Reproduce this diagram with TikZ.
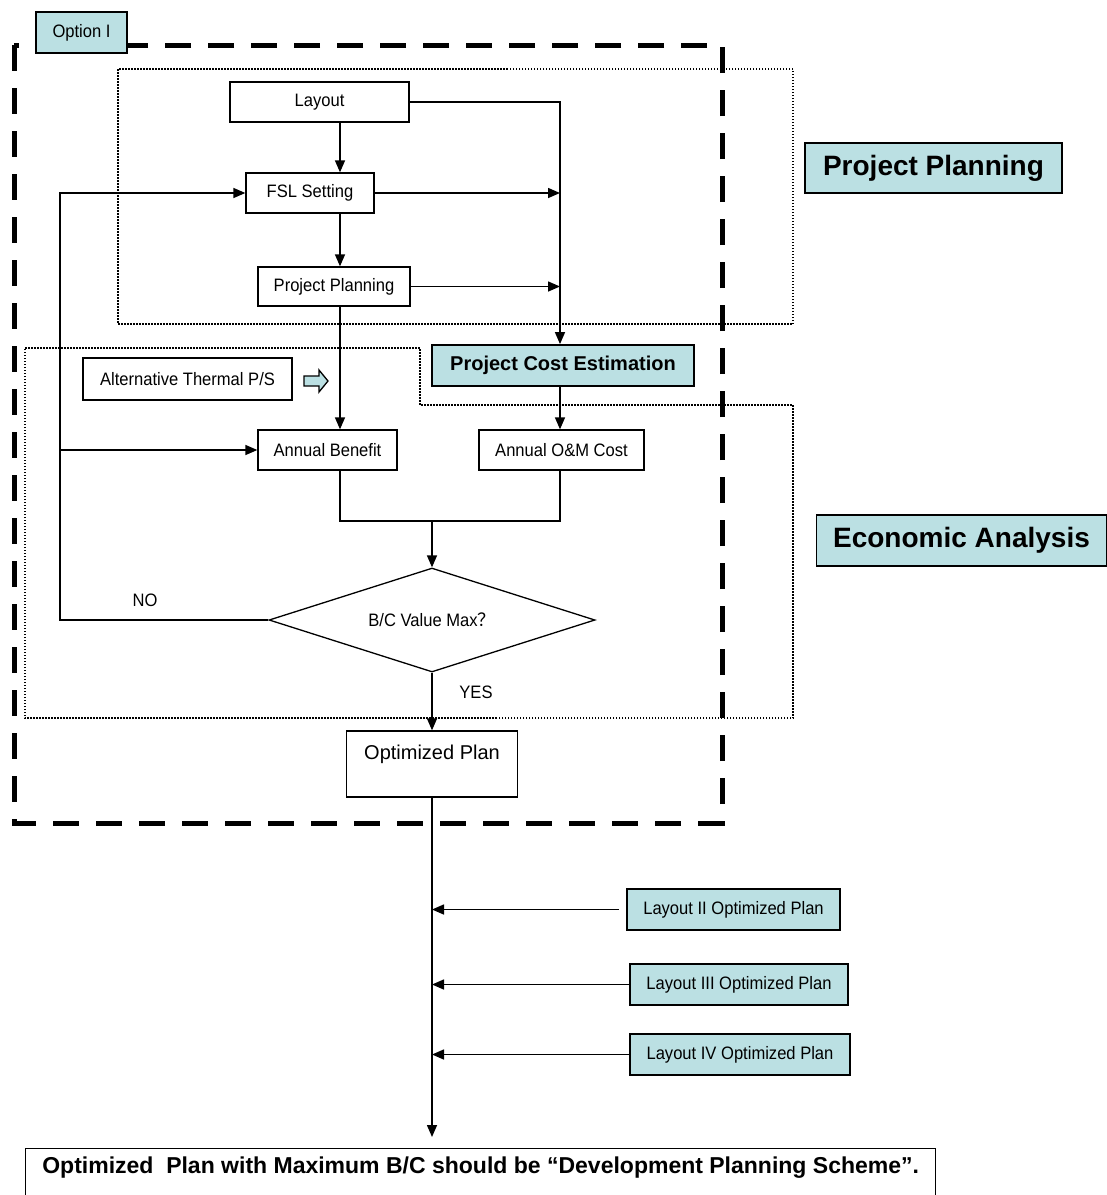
\documentclass[tikz,border=0pt]{standalone}
\usepackage{fontspec}
\setmainfont{Liberation Sans}
\newfontfamily\narrowsf{Liberation Sans}[FakeStretch=0.92]
\newfontfamily\cjk{Noto Sans CJK SC}
\usetikzlibrary{arrows.meta, shapes.geometric}

\definecolor{paleteal}{RGB}{187,224,227}

\tikzset{
  box/.style={draw, line width=1.3pt, fill=white, inner sep=0pt,
    font=\narrowsf\fontsize{18}{20}\selectfont},
  tealbox/.style={box, line width=1.8pt, fill=paleteal},
  flow/.style={line width=1.5pt, -{Triangle[length=12pt,width=10pt]}},
  dotline/.style={line width=1.5pt, dash pattern=on 1.5pt off 1.5pt},
  bigdash/.style={line width=5pt, dash pattern=on 26pt off 17pt},
  tag/.style={font=\narrowsf\fontsize{18}{20}\selectfont}
}

\begin{document}
\begin{tikzpicture}[x=1pt, y=-1pt]

\useasboundingbox (0,0) rectangle (1107,1195);

% the two dotted areas and the dashed option frame
\draw[dotline] (118,69) rectangle (793,324);
\draw[dotline] (25,348) -- (420,348) -- (420,405) -- (793,405) -- (793,718) -- (25,718) -- cycle;
\draw[bigdash] (14,45) rectangle (722,823);

\node[tealbox, minimum width=91pt, minimum height=41pt] (option) at (81.5,32.5) {Option I};

% columns the connectors run along
\coordinate (spine) at (340,0);
\coordinate (costcol) at (560,0);
\coordinate (loop) at (60,0);
\coordinate (join) at (432,521);
\coordinate (outlet) at (432,1137);

\node[box, minimum width=179pt, minimum height=40pt] (layout) at (319.5,102) {Layout};
\node[box, minimum width=128pt, minimum height=40pt] (fsl) at (310,193) {FSL Setting};
\node[box, minimum width=152pt, minimum height=39pt] (pplan) at (334,286.5) {Project Planning};
\node[tealbox, minimum width=262pt, minimum height=41pt, font=\bfseries\fontsize{20}{22}\selectfont] (pce) at (563,365.5) {Project Cost Estimation};
\node[box, minimum width=209pt, minimum height=42pt] (altps) at (187.5,379) {Alternative Thermal P/S};
\node[box, minimum width=139pt, minimum height=40pt] (benefit) at (327.5,450) {Annual Benefit};
\node[box, minimum width=165pt, minimum height=40pt] (omcost) at (561.5,450) {Annual O\&M Cost};
\node[box, diamond, aspect=3.13, minimum width=326pt, minimum height=104pt] (bcmax) at (432,620) {B/C Value Max{\cjk ？}};
\node[box, minimum width=171pt, minimum height=66pt, text height=28pt, text depth=38pt,
  font=\fontsize{20}{22}\selectfont] (optplan) at (432,764) {Optimized Plan};

\node[tealbox, minimum width=257pt, minimum height=50pt, font=\bfseries\fontsize{28}{30}\selectfont] (pptitle) at (933.5,168) {Project Planning};
\node[tealbox, minimum width=290pt, minimum height=51pt, font=\bfseries\fontsize{28}{30}\selectfont] (eatitle) at (961.5,540.5) {Economic Analysis};

\node[tealbox, minimum width=213pt, minimum height=41pt] (lay2) at (733.5,909.5) {Layout II Optimized Plan};
\node[tealbox, minimum width=218pt, minimum height=41pt] (lay3) at (739,984.5) {Layout III Optimized Plan};
\node[tealbox, minimum width=220pt, minimum height=41pt] (lay4) at (740,1054.5) {Layout IV Optimized Plan};

\node[box, anchor=north west, minimum width=910pt, minimum height=55pt, text depth=24pt, text height=19pt,
  font=\bfseries\fontsize{23}{25}\selectfont] (final) at (25,1148)
  {Optimized\ \ Plan with Maximum B/C should be “Development Planning Scheme”.};

% thermal input marker
\draw[line width=1.3pt, fill=paleteal] (304,376) -- (319,376) -- (319,370) -- (328,381)
  -- (319,392) -- (319,386) -- (304,386) -- cycle;

% planning chain
\draw[flow] (layout.south -| spine) -- (fsl.north -| spine);
\draw[flow] (fsl.south -| spine) -- (pplan.north -| spine);
\draw[flow] (pplan.south -| spine) -- (benefit.north -| spine);
\draw[flow] (layout.east) -| (pce.north -| costcol);
\draw[flow] (fsl.east) -- (fsl.east -| costcol);
\draw[flow] (pplan.east) -- (pplan.east -| costcol);
\draw[flow] (pce.south -| costcol) -- (omcost.north -| costcol);

% benefit and cost meet at the check
\draw[line width=1.5pt] (benefit.south -| spine) |- (join) -| (omcost.south -| costcol);
\draw[flow] (join) -- (bcmax.north);

\draw[flow] (bcmax.west) -| (loop |- fsl.west) -- (fsl.west);
\draw[flow] (loop |- benefit.west) -- (benefit.west);
\node[tag] (no) at (145,600) {NO};
\draw[flow] (bcmax.south) -- (optplan.north);
\node[tag] (yes) at (476,692) {YES};

% other layouts join the trunk
\draw[flow] (optplan.south) -- (outlet);
\draw[flow] ([xshift=-7pt]lay2.west) -- (lay2.west -| optplan.south);
\draw[flow] (lay3.west) -- (lay3.west -| optplan.south);
\draw[flow] (lay4.west) -- (lay4.west -| optplan.south);

\end{tikzpicture}
\end{document}
